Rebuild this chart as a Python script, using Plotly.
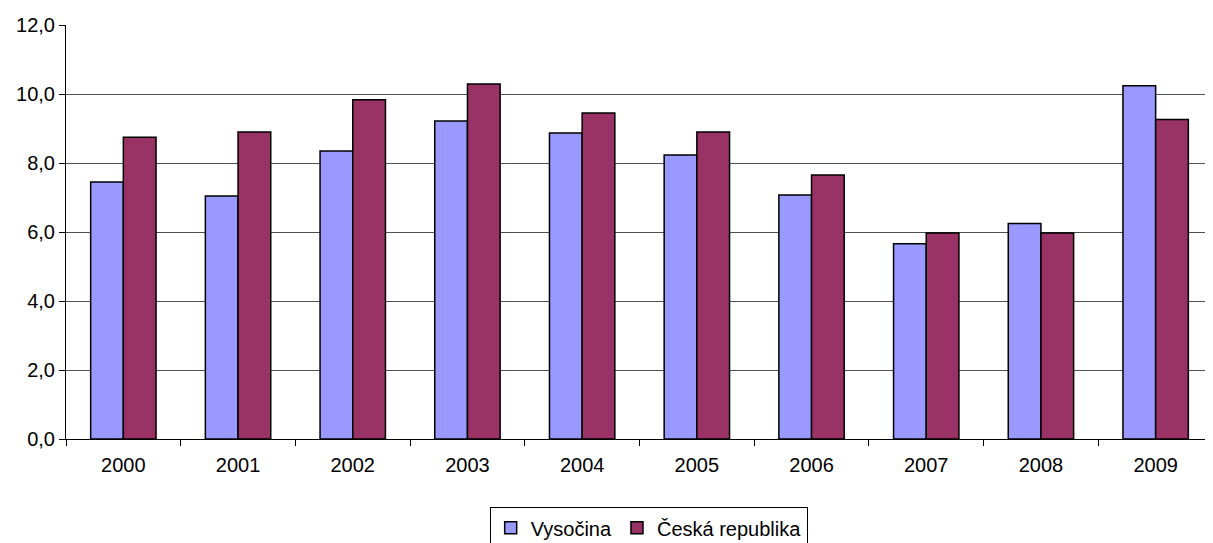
import plotly.graph_objects as go

years = ["2000", "2001", "2002", "2003", "2004", "2005", "2006", "2007", "2008", "2009"]
vysocina = [7.45, 7.04, 8.35, 9.22, 8.87, 8.23, 7.07, 5.66, 6.25, 10.24]
cr = [8.75, 8.90, 9.83, 10.29, 9.45, 8.90, 7.65, 5.97, 5.97, 9.26]
y_ticks = [0, 2, 4, 6, 8, 10, 12]

fig = go.Figure()
fig.add_trace(
    go.Bar(
        x=years,
        y=vysocina,
        name="Vysočina",
        marker=dict(color="#9999FF", line=dict(color="black", width=1.5)),
    )
)
fig.add_trace(
    go.Bar(
        x=years,
        y=cr,
        name="Česká republika",
        marker=dict(color="#993366", line=dict(color="black", width=1.5)),
    )
)

# page body has an 8px margin, so the figure is shrunk by that much
fig.update_layout(
    width=1205,
    height=535,
    margin=dict(l=58, r=0, t=17, b=104, autoexpand=False),
    plot_bgcolor="white",
    paper_bgcolor="white",
    separators=", ",
    font=dict(family="Liberation Sans, Arial", size=20, color="black"),
    barmode="group",
    bargap=0.43,
    bargroupgap=0,
    legend=dict(
        orientation="h",
        xanchor="center",
        x=0.508,
        yanchor="top",
        y=-0.165,
        bordercolor="black",
        borderwidth=1,
        font=dict(size=20),
        itemwidth=30,
        tracegroupgap=0,
    ),
)
fig.update_xaxes(
    type="category",
    automargin=False,
    tickson="boundaries",
    ticks="outside",
    ticklen=6,
    tickcolor="black",
    ticklabelstandoff=8,
    showline=True,
    linecolor="black",
    linewidth=1,
    showgrid=False,
    tickfont=dict(size=20),
)
fig.update_yaxes(
    range=[0, 12],
    automargin=False,
    tickvals=y_ticks,
    tickformat=".1f",
    ticks="outside",
    ticklen=6,
    tickcolor="black",
    showline=True,
    linecolor="black",
    linewidth=1,
    showgrid=True,
    gridcolor="#505050",
    gridwidth=1,
    zeroline=False,
    tickfont=dict(size=20),
)

fig.write_html("out.html")
